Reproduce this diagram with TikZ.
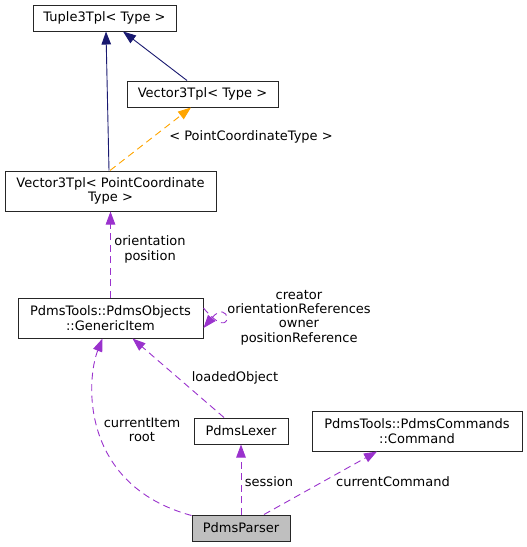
\documentclass[tikz,border=0pt]{standalone}
\usepackage{fontspec}
\setmainfont{DejaVu Sans}
\usetikzlibrary{arrows.meta}
\definecolor{navyedge}{HTML}{191970}
\definecolor{purpedge}{HTML}{9A32CD}
\definecolor{orangeedge}{HTML}{FFA500}
\definecolor{graybox}{HTML}{BFBFBF}
\tikzset{
  cls/.style={draw=black!85, line width=1pt, fill=white, inner sep=0pt, align=center, font=\fontsize{13}{14.4}\selectfont},
  lbl/.style={align=center, inner sep=0pt, font=\fontsize{13}{14.4}\selectfont},
  inherit/.style={draw=navyedge, line width=0.9pt, -{Triangle[length=13pt,width=9.5pt]}},
  usage/.style={draw=purpedge, line width=0.9pt, dash pattern=on 7pt off 4.5pt, -{Triangle[length=13pt,width=9.5pt]}},
  templ/.style={draw=orangeedge, line width=0.9pt, dash pattern=on 7pt off 4.5pt, -{Triangle[length=13pt,width=9.5pt]}},
}
\begin{document}
\begin{tikzpicture}[x=1pt,y=-1pt]
\useasboundingbox (0,0) rectangle (527,547);
\node[cls, minimum width=143pt, minimum height=26pt] (tuple) at (104.5,18) {Tuple3Tpl< Type >};
\node[cls, minimum width=151pt, minimum height=26pt] (vtype) at (202.5,94) {Vector3Tpl< Type >};
\node[cls, minimum width=211pt, minimum height=40pt] (vpct) at (110.5,191) {Vector3Tpl< PointCoordinate\\Type >};
\node[cls, minimum width=185pt, minimum height=40pt] (generic) at (110.5,318) {PdmsTools::PdmsObjects\\::GenericItem};
\node[cls, minimum width=94pt, minimum height=26pt] (lexer) at (241,431) {PdmsLexer};
\node[cls, minimum width=210pt, minimum height=40pt] (command) at (417,431) {PdmsTools::PdmsCommands\\::Command};
\node[cls, fill=graybox, minimum width=98pt, minimum height=26pt] (parser) at (241,528) {PdmsParser};
\coordinate (loopout) at (227,318);

\draw[inherit] ([xshift=-1.5pt]vpct.north) -- ([xshift=1.5pt]tuple.south);
\draw[inherit] ([xshift=-15.5pt]vtype.north) -- ([xshift=18.5pt]tuple.south);
\draw[templ] ([xshift=-0.5pt]vpct.north) -- ([xshift=-11.5pt]vtype.south);
\node[lbl] (l1) at (251,137) {< PointCoordinateType >};
\draw[usage] (generic.north) -- (vpct.south);
\node[lbl] (l2) at (150,249.5) {orientation\\position};
\draw[usage] ([yshift=10pt]generic.east) .. controls (220,328) and (227,324) .. (loopout) .. controls (227,312) and (220,308) .. ([yshift=-10pt]generic.east);
\node[lbl] (l3) at (299,317.5) {creator\\orientationReferences\\owner\\positionReference};
\draw[usage] ([xshift=-17pt]lexer.north) -- ([xshift=22pt]generic.south);
\node[lbl] (l4) at (235,378) {loadedObject};
\draw[usage] ([yshift=-1pt]parser.north west) .. controls (80,485) and (86,380) .. ([xshift=-8pt]generic.south);
\node[lbl] (l5) at (142,430) {currentItem\\root};
\draw[usage] (parser.north) -- (lexer.south);
\node[lbl] (l6) at (269,482) {session};
\draw[usage] ([xshift=23pt]parser.north) -- ([xshift=-40pt]command.south);
\node[lbl] (l7) at (393,482) {currentCommand};
\end{tikzpicture}
\end{document}
